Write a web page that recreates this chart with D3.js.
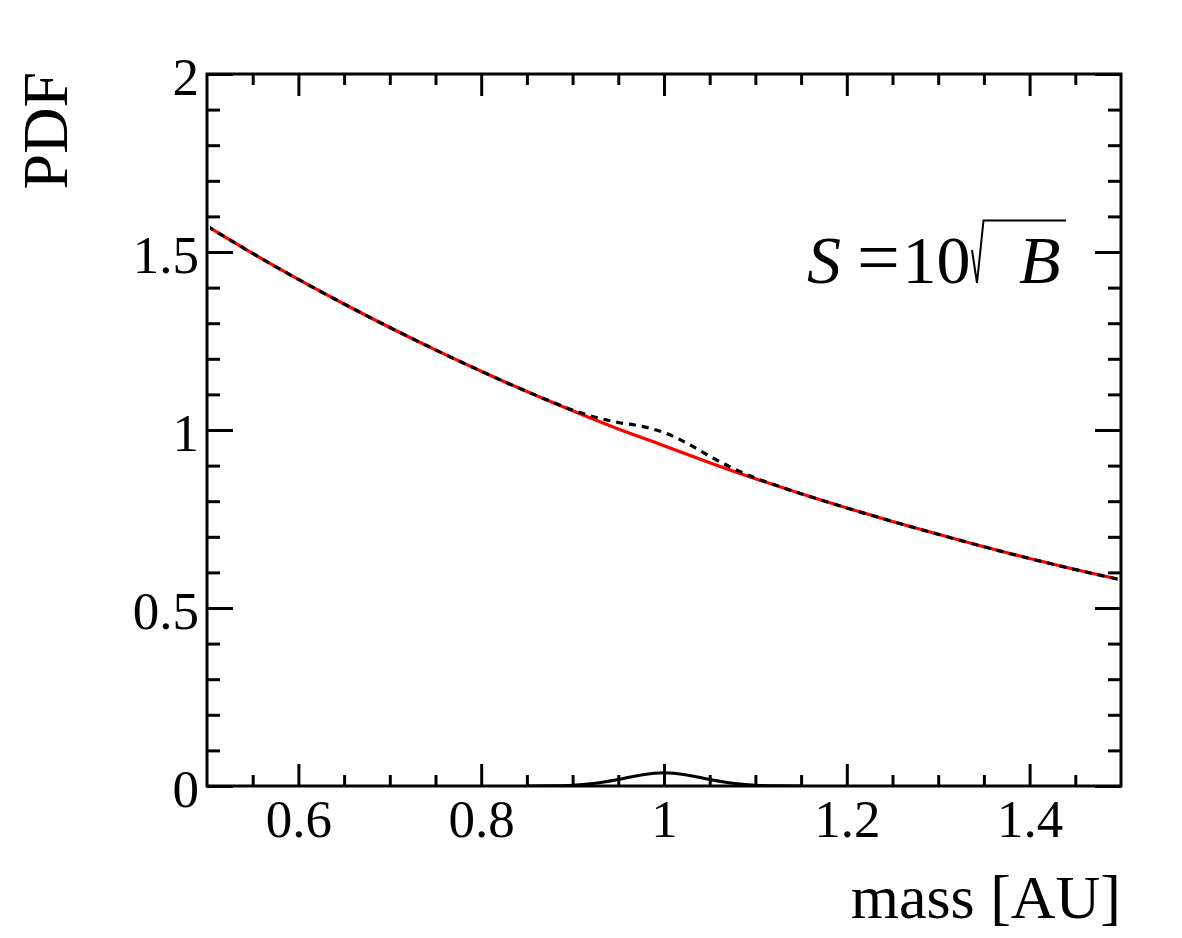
<!DOCTYPE html>
<html>
<head>
<meta charset="utf-8">
<script src="https://cdn.jsdelivr.net/npm/d3@7"></script>
<style>
  html, body { margin: 0; padding: 0; background: #ffffff; }
  svg { display: block; }
</style>
</head>
<body>
<script>
// ---------------- data ----------------
const massGrid = [0.50, 0.55, 0.60, 0.65, 0.70, 0.75, 0.80, 0.85, 0.90, 0.95, 1.00,
                  1.05, 1.10, 1.15, 1.20, 1.25, 1.30, 1.35, 1.40, 1.45, 1.50];
const background = [1.573, 1.496, 1.423, 1.354, 1.288, 1.225, 1.165, 1.108, 1.054, 1.003, 0.956,
                     0.908, 0.863, 0.821, 0.781, 0.743, 0.707, 0.672, 0.639, 0.608, 0.579];
const signalMass = [0.85, 0.875, 0.90, 0.925, 0.95, 0.975, 1.00, 1.025, 1.05, 1.075, 1.10, 1.125, 1.15];
const signal     = [0.0001, 0.0004, 0.0022, 0.0075, 0.0182, 0.0310, 0.0370, 0.0310, 0.0182, 0.0075, 0.0022, 0.0004, 0.0001];

const xMajorTicks = [0.6, 0.8, 1.0, 1.2, 1.4];
const xMinorTicks = [0.55, 0.65, 0.7, 0.75, 0.85, 0.9, 0.95, 1.05, 1.1, 1.15, 1.25, 1.3, 1.35, 1.45];
const xTickLabels = ["0.6", "0.8", "1", "1.2", "1.4"];
const yMajorTicks = [0, 0.5, 1, 1.5, 2];
const yMinorTicks = [0.1, 0.2, 0.3, 0.4, 0.6, 0.7, 0.8, 0.9, 1.1, 1.2, 1.3, 1.4, 1.6, 1.7, 1.8, 1.9];
const yTickLabels = ["0", "0.5", "1", "1.5", "2"];
const xTitle = "mass [AU]";
const yTitle = "PDF";

// ---------------- layout ----------------
const W = 1182, H = 938;
const pL = 207, pR = 1121, pT = 74, pB = 786;
const FONT = "'Liberation Serif', 'Times New Roman', serif";

const svg = d3.select("body").append("svg").attr("width", W).attr("height", H);

const x = d3.scaleLinear().domain([0.5, 1.5]).range([pL, pR]);
const y = d3.scaleLinear().domain([0, 2]).range([pB, pT]);

// derived series: background + signal (background linearly interpolated)
function bgAt(m) {
  const i = Math.min(massGrid.length - 2, Math.max(0, d3.bisectRight(massGrid, m) - 1));
  const t = (m - massGrid[i]) / (massGrid[i + 1] - massGrid[i]);
  return background[i] + t * (background[i + 1] - background[i]);
}
function sigAt(m) {
  if (m < signalMass[0] || m > signalMass[signalMass.length - 1]) return 0;
  const i = Math.min(signalMass.length - 2, Math.max(0, d3.bisectRight(signalMass, m) - 1));
  const t = (m - signalMass[i]) / (signalMass[i + 1] - signalMass[i]);
  return signal[i] + t * (signal[i + 1] - signal[i]);
}
const totalMass = Array.from(new Set(massGrid.concat(signalMass))).sort((a, b) => a - b);
const totalPts = totalMass.map(m => [m, bgAt(m) + sigAt(m)]);
const bgPts = massGrid.map((m, i) => [m, background[i]]);
const sigPts = signalMass.map((m, i) => [m, signal[i]]);

// clip
svg.append("defs").append("clipPath").attr("id", "plotclip")
  .append("rect").attr("x", pL + 3).attr("y", pT).attr("width", pR - pL - 6).attr("height", pB - pT);

const plot = svg.append("g").attr("clip-path", "url(#plotclip)");

const lineBg = d3.line().x(d => x(d[0])).y(d => y(d[1])).curve(d3.curveNatural);
const lineTot = d3.line().x(d => x(d[0])).y(d => y(d[1])).curve(d3.curveMonotoneX);
const lineSig = d3.line().x(d => x(d[0])).y(d => y(d[1])).curve(d3.curveCatmullRom);

plot.append("path").datum(bgPts).attr("d", lineBg)
  .attr("fill", "none").attr("stroke", "#ff0000").attr("stroke-width", 3.2);
plot.append("path").datum(totalPts).attr("d", lineTot)
  .attr("fill", "none").attr("stroke", "#000000").attr("stroke-width", 3.2)
  .attr("stroke-dasharray", "7,6");
plot.append("path").datum(sigPts).attr("d", lineSig)
  .attr("fill", "none").attr("stroke", "#000000").attr("stroke-width", 3);

// ---------------- axes ----------------
function styleAxis(g) {
  g.select(".domain").remove();
  g.selectAll(".tick line").attr("stroke", "#000").attr("stroke-width", 3);
  g.attr("font-family", FONT).attr("font-size", 53);
  g.selectAll(".tick text").attr("fill", "#000");
}

// bottom
svg.append("g").attr("transform", `translate(0,${pB})`)
  .call(d3.axisBottom(x).tickValues(xMajorTicks).tickSize(-22).tickPadding(13)
    .tickFormat((d, i) => xTickLabels[i]))
  .call(styleAxis);
svg.append("g").attr("transform", `translate(0,${pB})`)
  .call(d3.axisBottom(x).tickValues(xMinorTicks).tickSize(-11).tickFormat(""))
  .call(styleAxis);
// top
svg.append("g").attr("transform", `translate(0,${pT})`)
  .call(d3.axisTop(x).tickValues(xMajorTicks).tickSize(-22).tickFormat(""))
  .call(styleAxis);
svg.append("g").attr("transform", `translate(0,${pT})`)
  .call(d3.axisTop(x).tickValues(xMinorTicks).tickSize(-11).tickFormat(""))
  .call(styleAxis);
// left
const yl = svg.append("g").attr("transform", `translate(${pL},0)`)
  .call(d3.axisLeft(y).tickValues(yMajorTicks).tickSize(-26).tickPadding(8)
    .tickFormat((d, i) => yTickLabels[i]))
  .call(styleAxis);
yl.selectAll(".tick text").attr("dy", null).attr("y", 20);
svg.append("g").attr("transform", `translate(${pL},0)`)
  .call(d3.axisLeft(y).tickValues(yMinorTicks).tickSize(-13).tickFormat(""))
  .call(styleAxis);
// right
svg.append("g").attr("transform", `translate(${pR},0)`)
  .call(d3.axisRight(y).tickValues(yMajorTicks).tickSize(-26).tickFormat(""))
  .call(styleAxis);
svg.append("g").attr("transform", `translate(${pR},0)`)
  .call(d3.axisRight(y).tickValues(yMinorTicks).tickSize(-13).tickFormat(""))
  .call(styleAxis);

// frame
svg.append("rect").attr("x", pL).attr("y", pT)
  .attr("width", pR - pL).attr("height", pB - pT)
  .attr("fill", "none").attr("stroke", "#000").attr("stroke-width", 3);

// titles
svg.append("text").attr("x", pR).attr("y", 918)
  .attr("text-anchor", "end").attr("font-family", FONT).attr("font-size", 62)
  .attr("fill", "#000").text(xTitle);
svg.append("text").attr("transform", `translate(67,${pT - 2}) rotate(-90)`)
  .attr("text-anchor", "end").attr("font-family", FONT).attr("font-size", 64)
  .attr("fill", "#000").text(yTitle);

// annotation  S = 10 sqrt(B)
const ann = svg.append("g").attr("font-family", FONT).attr("font-size", 68).attr("fill", "#000");
const baseY = 283;
ann.append("text").attr("x", 807).attr("y", baseY).attr("font-style", "italic").text("S");
ann.append("text").attr("x", 857).attr("y", baseY).attr("font-size", 76).text("=");
ann.append("text").attr("x", 902.5).attr("y", baseY).text("10");
const r0 = 972;
ann.append("path")
  .attr("d", `M${r0},${baseY - 33} L${r0 + 5},${baseY} L${r0 + 11.5},${baseY - 62.5} H${r0 + 94}`)
  .attr("fill", "none").attr("stroke", "#000").attr("stroke-width", 2);
ann.append("text").attr("x", r0 + 47).attr("y", baseY).attr("font-style", "italic").text("B");
</script>
</body>
</html>
